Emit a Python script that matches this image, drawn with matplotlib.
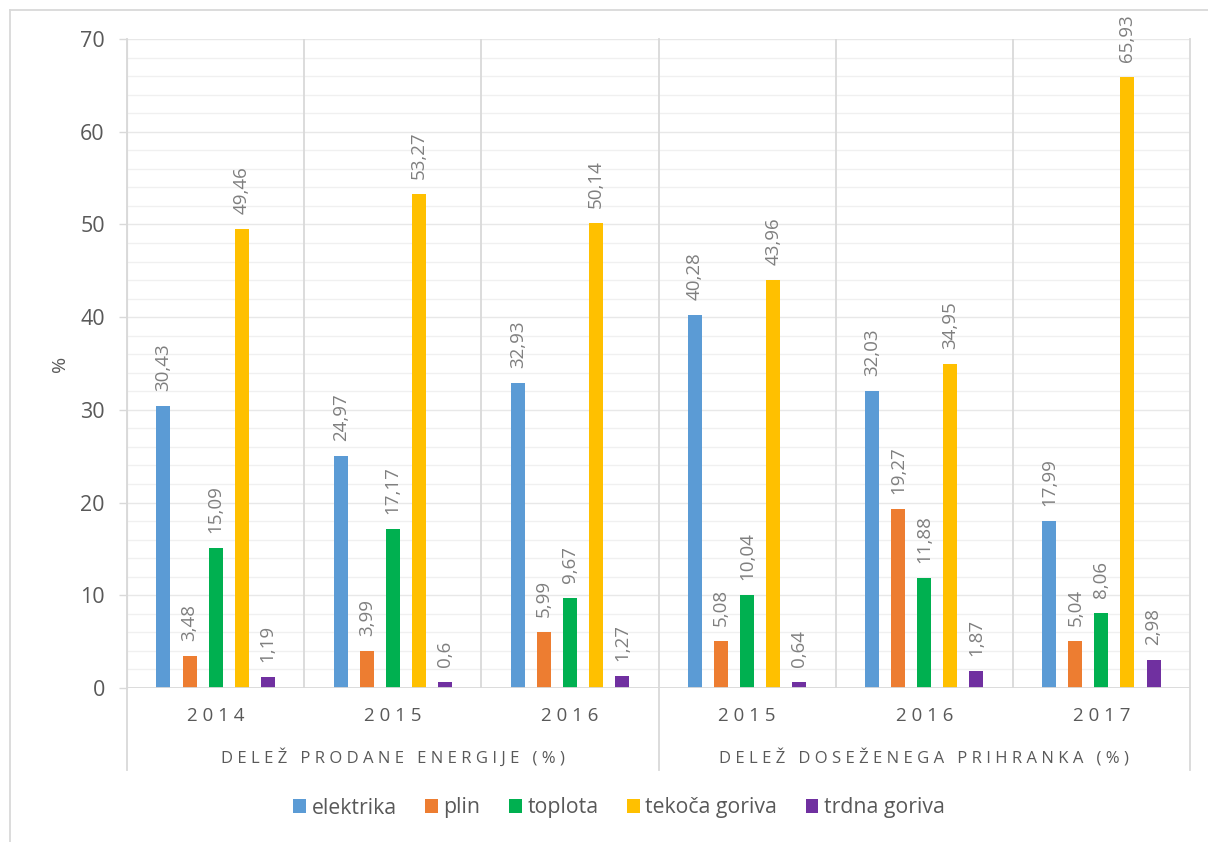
import matplotlib
matplotlib.use("Agg")
import matplotlib.pyplot as plt
import numpy as np
from matplotlib.patches import Patch
from matplotlib.lines import Line2D
from matplotlib.transforms import blended_transform_factory

plt.rcParams['font.family'] = ['Open Sans', 'DejaVu Sans']

# Data
years = ["2014", "2015", "2016", "2015", "2016", "2017"]
groups = ["DELEŽ PRODANE ENERGIJE (%)", "DELEŽ DOSEŽENEGA PRIHRANKA (%)"]
series_names = ["elektrika", "plin", "toplota", "tekoča goriva", "trdna goriva"]
elektrika = [30.43, 24.97, 32.93, 40.28, 32.03, 17.99]
plin = [3.48, 3.99, 5.99, 5.08, 19.27, 5.04]
toplota = [15.09, 17.17, 9.67, 10.04, 11.88, 8.06]
tekoca_goriva = [49.46, 53.27, 50.14, 43.96, 34.95, 65.93]
trdna_goriva = [1.19, 0.6, 1.27, 0.64, 1.87, 2.98]
series = [elektrika, plin, toplota, tekoca_goriva, trdna_goriva]
colors = ["#5B9BD5", "#ED7D31", "#00B050", "#FFC000", "#7030A0"]

W, H = 1208, 842
fig = plt.figure(figsize=(W / 100, H / 100), dpi=100)
ax = fig.add_axes([127 / W, 1 - 688 / H, (1190 - 127) / W, (688 - 39) / H])

# Chart frame (top and left edges)
fig.add_artist(Line2D([10 / W, 1.0], [1 - 10 / H, 1 - 10 / H], color="#D9D9D9", lw=1.3))
fig.add_artist(Line2D([10 / W, 10 / W], [0, 1 - 10 / H], color="#D9D9D9", lw=1.3))

x = np.arange(len(years))
step = 0.147
width = 0.079

# Gridlines
for v in np.arange(2, 71, 2):
    ax.axhline(v, color="#F0F0F0" if v % 10 else "#E8E8E8", lw=1.0, zorder=0)

for i, (vals, col) in enumerate(zip(series, colors)):
    pos = x + (i - 2) * step
    ax.bar(pos, vals, width=width, color=col, zorder=3)
    for xp, v in zip(pos, vals):
        ax.annotate(f"{v:g}".replace(".", ","), (xp, v), xytext=(0, 15),
                    textcoords="offset pixels", rotation=90, ha="center",
                    va="bottom", fontsize=13.5, color="#7F7F7F")

ax.set_xlim(-0.5, len(years) - 0.5)
ax.set_ylim(0, 70)
ax.set_yticks(np.arange(0, 71, 10))
ax.set_yticklabels([str(v) for v in range(0, 71, 10)], fontsize=15.5, color="#595959")
ax.tick_params(axis="y", length=6, width=1, color="#D9D9D9", pad=10)
ax.tick_params(axis="x", length=0, labelbottom=False)
for s in ["top", "right", "bottom"]:
    ax.spines[s].set_visible(False)
ax.spines["left"].set_color("#D9D9D9")
ax.axhline(0, color="#D9D9D9", lw=1.3, zorder=4)

ax.set_ylabel("%", fontsize=14, color="#595959", labelpad=8)

# Inner category separators
for b in [0.5, 1.5, 3.5, 4.5]:
    ax.axvline(b, color="#D9D9D9", lw=1.3, zorder=1)

# Outer category separators extending into the label area
tr = blended_transform_factory(ax.transData, ax.transAxes)
ybot = -82 / 649
for b in [-0.5, 2.5, 5.5]:
    ax.add_line(Line2D([b, b], [ybot, 1], transform=tr, color="#D9D9D9",
                       lw=1.3, clip_on=False, zorder=1))

def spaced(s):
    return " ".join(s)

y_year = -28 / 649
for xi, yr in zip(x, years):
    ax.text(xi, y_year, spaced(yr), transform=tr, ha="center", va="center",
            fontsize=13.5, color="#595959")

y_group = -70 / 649
for gx, g in zip([1.0, 4.0], groups):
    ax.text(gx, y_group, spaced(g), transform=tr, ha="center", va="center",
            fontsize=12, color="#595959")

handles = [Patch(facecolor=c, edgecolor="none") for c in colors]
fig.legend(handles, series_names, loc="center", ncol=5,
           bbox_to_anchor=(619 / W, 1 - 808 / H), frameon=False,
           fontsize=15.3, labelcolor="#595959", handlelength=0.6,
           handleheight=0.6, handletextpad=0.25, columnspacing=1.35)

fig.savefig("out.png", dpi=100)
